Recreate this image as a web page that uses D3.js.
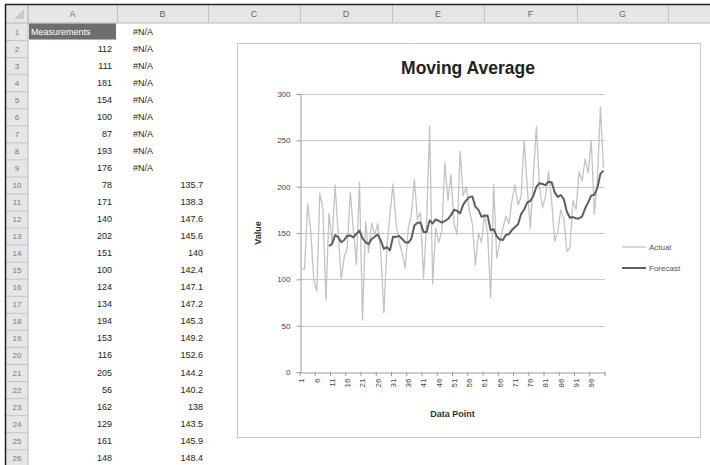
<!DOCTYPE html>
<html><head><meta charset="utf-8">
<script src="https://cdn.jsdelivr.net/npm/d3@7"></script>
<style>body{margin:0;background:#fff;overflow:hidden}svg{display:block}</style>
</head><body><svg id="c" width="710" height="465"></svg>
<script>
// ---- data ----
const actual = [112,111,181,154,100,87,193,176,78,171,
140,202,151,100,124,134,194,153,116,205,
56,162,129,161,148,160,128,64,135,170,
203,160,140,128,112,155,170,208,165,172,
101,160,265,95,155,140,152,226,185,213,
160,148,238,190,200,175,160,115,150,140,
170,150,80,202,123,140,155,168,160,185,
202,180,190,250,200,155,210,265,200,177,
190,216,185,141,151,175,165,130,134,185,
175,216,206,230,215,250,170,205,286,220];
const forecast = [null,null,null,null,null,null,null,null,null,
135.7,138.3,147.6,145.6,140,142.4,147.1,147.2,145.3,149.2,152.6,144.2,140.2,138,143.5,145.9,
148.4,141.8,132.9,134.8,131.3,146.0,145.8,146.9,143.6,140.0,139.5,143.7,158.1,161.1,161.3,
151.1,151.1,163.6,160.3,164.6,163.1,161.3,163.1,165.1,169.2,175.1,173.9,171.2,180.7,185.2,
188.7,189.5,178.4,174.9,167.6,168.6,168.8,153.0,154.2,146.5,143.0,142.5,147.8,148.8,153.3,
156.5,159.5,170.5,175.3,183.0,184.5,190.0,199.7,203.7,202.9,201.7,205.3,204.8,193.9,189.0,
191.0,186.5,173.0,166.4,167.2,165.7,165.7,167.8,176.7,183.1,190.6,191.1,198.6,213.8,217.3];
const categories = d3.range(1, 101);
const xTickLabels = ["1","6","11","16","21","26","31","36","41","46","51","56","61","66","71","76","81","86","91","96"];
const yTicks = [0,50,100,150,200,250,300];
const seriesNames = ["Actual","Forecast"];
const columnLetters = ["A","B","C","D","E","F","G","H"];
const headerText = "Measurements";
const chartTitle = "Moving Average";
const xTitle = "Data Point", yTitle = "Value";

const svg = d3.select("#c");
const FONT = "Liberation Sans, Arial, sans-serif";

// ---- spreadsheet ----
const colEdges = [28,117,208,300,392,484,577,668,760];
const rowTop = 23, rowH = 17.05, nRows = 26;
const rowY = r => rowTop + (r-1)*rowH;

svg.append("rect").attr("x",6).attr("y",5).attr("width",704).attr("height",rowTop-5).attr("fill","#e6e6e6");
svg.append("rect").attr("x",6).attr("y",rowTop).attr("width",22).attr("height",465-rowTop).attr("fill","#e6e6e6");
svg.append("line").attr("x1",6).attr("x2",710).attr("y1",rowTop).attr("y2",rowTop).attr("stroke","#b8b8b8");
svg.append("line").attr("x1",28).attr("x2",28).attr("y1",5).attr("y2",465).attr("stroke","#b8b8b8");
colEdges.forEach(x => svg.append("line").attr("x1",x+0.5).attr("x2",x+0.5).attr("y1",5).attr("y2",rowTop).attr("stroke","#c4c4c4"));
columnLetters.forEach((c,i) => {
  svg.append("text").attr("x",(colEdges[i]+colEdges[i+1])/2).attr("y",17)
    .attr("text-anchor","middle").attr("font-family",FONT).attr("font-size",9).attr("fill","#666").text(c);
});
svg.append("path").attr("d","M24,9 L24,19 L14,19 Z").attr("fill","#c8c8c8");
for (let r = 1; r <= nRows; r++) {
  svg.append("line").attr("x1",6).attr("x2",28).attr("y1",rowY(r+1)+0.5).attr("y2",rowY(r+1)+0.5).attr("stroke","#c4c4c4");
  svg.append("text").attr("x",17).attr("y",rowY(r)+rowH/2+3)
    .attr("text-anchor","middle").attr("font-family",FONT).attr("font-size",8).attr("fill","#777").text(r);
}
svg.append("rect").attr("x",29).attr("y",rowTop+0.5).attr("width",87).attr("height",rowH-1).attr("fill","#6e6e6e");
svg.append("text").attr("x",31).attr("y",rowY(1)+rowH/2+3).attr("font-family",FONT).attr("font-size",9)
  .attr("fill","#fff").text(headerText);
for (let r = 1; r <= nRows; r++) {
  const y = rowY(r)+rowH/2+3;
  if (r >= 2) {
    svg.append("text").attr("x",112).attr("y",y).attr("text-anchor","end").attr("font-family",FONT)
      .attr("font-size",9).attr("fill","#222").text(actual[r-2]);
  }
  const f = forecast[r-1];
  if (f == null) {
    svg.append("text").attr("x",133).attr("y",y).attr("font-family",FONT)
      .attr("font-size",9).attr("fill","#222").text("#N/A");
  } else {
    svg.append("text").attr("x",203).attr("y",y).attr("text-anchor","end").attr("font-family",FONT)
      .attr("font-size",9).attr("fill","#222").text(f);
  }
}
svg.append("line").attr("x1",5.5).attr("x2",5.5).attr("y1",4).attr("y2",465).attr("stroke","#222").attr("stroke-width",1.5);
svg.append("line").attr("x1",5).attr("x2",710).attr("y1",4.5).attr("y2",4.5).attr("stroke","#222").attr("stroke-width",1.5);

// ---- chart ----
const box = {x:237, y:43, w:463, h:394};
svg.append("rect").attr("x",box.x+0.5).attr("y",box.y+0.5).attr("width",box.w).attr("height",box.h)
  .attr("fill","#fff").attr("stroke","#c6c6c6");

const plot = {l:300, r:605, t:94, b:372};
const x = d3.scaleBand().domain(categories).range([plot.l, plot.r]);
const y = d3.scaleLinear().domain([0,300]).range([plot.b, plot.t]);
const cx = d => x(d) + x.bandwidth()/2;

const g = svg.append("g");
g.selectAll(".grid").data(yTicks.filter(t => t > 0)).join("line")
  .attr("x1",plot.l).attr("x2",plot.r).attr("y1",d=>Math.round(y(d))+0.5).attr("y2",d=>Math.round(y(d))+0.5)
  .attr("stroke","#c8c8c8").attr("stroke-width",1);

const yAxis = g.append("g").attr("transform",`translate(${plot.l+0.5},0)`)
  .call(d3.axisLeft(y).tickValues(yTicks).tickSize(4).tickPadding(6));
yAxis.select(".domain").attr("stroke","#9a9a9a");
yAxis.selectAll(".tick line").attr("stroke","#9a9a9a");
yAxis.selectAll(".tick text").attr("font-family",FONT).attr("font-size",8).attr("fill","#444");

const tickCats = categories.filter((d,i) => i % 5 === 0);
const xAxis = g.append("g").attr("transform",`translate(0,${plot.b+0.5})`)
  .call(d3.axisBottom(x).tickValues(tickCats).tickSize(0).tickFormat((d,i)=>xTickLabels[i]));
xAxis.select(".domain").attr("stroke","#9a9a9a");
xAxis.selectAll(".tick text").attr("font-family",FONT).attr("font-size",8).attr("fill","#444")
  .attr("transform","rotate(-90)").attr("text-anchor","end").attr("x",-6).attr("y",0).attr("dy","0.35em");
g.selectAll(".xt").data(tickCats.concat([101])).join("line")
  .attr("x1",d => d===101 ? plot.r : x(d)).attr("x2",d => d===101 ? plot.r : x(d))
  .attr("y1",plot.b).attr("y2",plot.b+4).attr("stroke","#9a9a9a");

const line = d3.line().defined(d => d[1] != null).x(d => cx(d[0])).y(d => y(d[1]));
g.append("path").datum(categories.map((c,i)=>[c,actual[i]])).attr("d",line)
  .attr("fill","none").attr("stroke","#c3c3c3").attr("stroke-width",1.3).attr("stroke-linejoin","round");
g.append("path").datum(categories.map((c,i)=>[c,forecast[i]])).attr("d",line)
  .attr("fill","none").attr("stroke","#5e5e5e").attr("stroke-width",2).attr("stroke-linejoin","round");

svg.append("text").attr("x",468).attr("y",74).attr("text-anchor","middle").attr("font-family",FONT)
  .attr("font-weight","bold").attr("font-size",17.5).attr("fill","#222").text(chartTitle);
svg.append("text").attr("transform",`translate(261,${(plot.t+plot.b)/2}) rotate(-90)`).attr("text-anchor","middle")
  .attr("font-family",FONT).attr("font-weight","bold").attr("font-size",9).attr("fill","#333").text(yTitle);
svg.append("text").attr("x",(plot.l+plot.r)/2).attr("y",417).attr("text-anchor","middle")
  .attr("font-family",FONT).attr("font-weight","bold").attr("font-size",9).attr("fill","#333").text(xTitle);

const legColors = ["#c3c3c3","#5e5e5e"], legW = [1.3,2];
seriesNames.forEach((n,i) => {
  const ly = 247 + i*21;
  svg.append("line").attr("x1",622).attr("x2",646).attr("y1",ly).attr("y2",ly)
    .attr("stroke",legColors[i]).attr("stroke-width",legW[i]);
  svg.append("text").attr("x",649).attr("y",ly+3).attr("font-family",FONT).attr("font-size",8)
    .attr("fill","#555").text(n);
});
</script></body></html>
